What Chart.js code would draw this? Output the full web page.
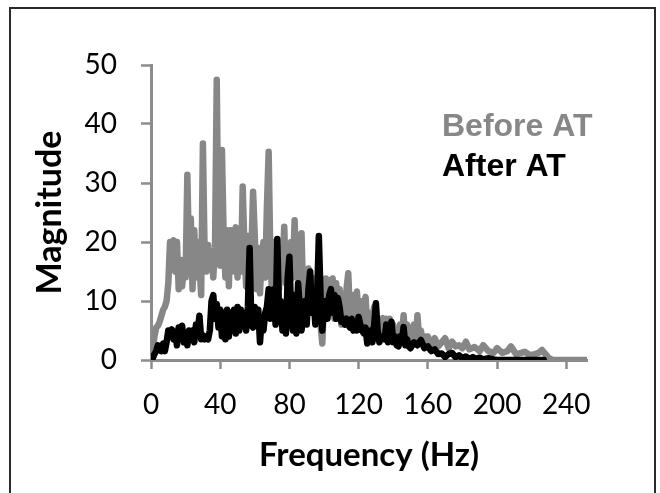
<!DOCTYPE html>
<html lang="en">
<head>
    <meta charset="UTF-8">
    <title>Frequency spectrum before and after AT</title>
    <script src="https://cdn.jsdelivr.net/npm/chart.js"></script>
    <style>
        body { margin: 0; background: #fff; }
        .master { position: relative; width: 660px; height: 493px; overflow: hidden; }
        .frame { position: absolute; left: 9px; top: 7px; width: 643px; height: 520px; border: 2px solid #2a2a2a; }
        #myChart { position: absolute; left: 0; top: 0; }
    </style>
</head>
<body>
    <div class="master">
        <div class="frame"></div>
        <canvas id="myChart" width="660" height="493"></canvas>
    </div>

    <script>
        // Before AT (grey trace)
        const beforeHz = [0,1,2,3,4,5,6,7,8,9,10,11,12,13,14,15,16,17,18,19,20,
            21,22,23,24,25,26,27,28,29,30,31,32,33,34,35,36,37,38,39,40,
            41,42,43,44,45,46,47,48,49,50,51,52,53,54,55,56,57,58,59,60,
            61,62,63,64,65,66,67,68,69,70,71,72,73,74,75,76,77,78,79,80,
            81,82,83,84,85,86,87,88,89,90,91,92,93,94,95,96,97,98,99,100,
            101,102,103,104,105,106,107,108,109,110,111,112,113,114,115,116,117,118,119,120,
            121,122,123,124,125,126,127,128,129,130,131,132,133,134,135,136,137,138,139,140,
            141,142,143,144,145,146,147,148,149,150,151,152,153,154,155,156,157,158,159,160,
            162,164,166,168,170,172,174,176,178,180,182,184,187,190,192,195,198,200,
            203,206,208,211,214,216,219,222,224,226,228,230,232,252];
        const beforeMag = [0,1.5,4,5.5,5.8,6.5,7.5,8.5,9,10,13,20,19.5,20.3,15,20,12,17,12.5,16,14,
            31.4,17,24,12,22,14,20,16,11,36.7,18,15,19.5,16,18,14,19,47.5,18,16,
            35.6,21,14,22,12.5,22,15,21.5,22.5,14,22,15,29.4,19,12.5,21,14,18,28.5,21,
            12,19,11.3,18,20,14,26,35.3,17,11,20,11,16,12,19,15,22.6,13,19,10.5,
            20,14,23.7,14,21,12,21.5,10,15,11,15.5,12,14,9,12,8,13,6,2.8,10,
            13.8,9,13.5,10,13.8,7,13,8,12,6,11,7,12,14.7,8,11,6,10,11.6,7,
            10,6.5,9,10.7,5.5,8,5,7.5,9,5,7,4.5,6,7.1,4.5,7,3.5,7,4,6,
            3.5,5,3,6,4,7.6,3.5,6,3,5.5,3,6,3,7.6,3.5,5,3,4,2.5,4,
            2.5,3.7,2.3,3,3.7,2,3.1,2.3,2.5,2,3.1,1.8,2.2,1.5,2.5,1.5,1.2,2,
            1.2,1.5,2.3,1,1.2,1.4,0.8,1,1.2,1.7,1,0.3,0,0];

        // After AT (black trace)
        const afterHz = [0,1,2,3,4,5,6,7,8,9,10,11,12,13,14,15,16,17,18,19,20,
            21,22,23,24,25,26,27,28,29,30,31,32,33,34,35,36,37,38,39,40,
            41,42,43,44,45,46,47,48,49,50,51,52,53,54,55,56,57,58,59,60,
            61,62,63,64,65,66,67,68,69,70,71,72,73,74,75,76,77,78,79,80,
            81,82,83,84,85,86,87,88,89,90,91,92,93,94,95,96,97,98,99,100,
            101,102,103,104,105,106,107,108,109,110,111,112,113,114,115,116,117,118,119,120,
            121,122,123,124,125,126,127,128,129,130,131,132,133,134,135,136,137,138,139,140,
            141,142,143,144,145,146,147,148,149,150,152,154,156,158,160,
            162,164,166,168,170,172,174,176,178,180,182,184,186,188,190,192,195,198,200,227];
        const afterMag = [0,0.3,1,1.5,2.5,2.2,1.5,2.8,1.5,3,5,4,5.2,3.5,4.8,2.5,5.5,4,5.8,3,4.5,
            2.5,5,4,5,3,6,5,7.5,3.5,4.2,3.5,4,3.5,5,10,11,7,9.5,5.5,8.5,
            4,8,3.5,8.5,4,8,5,8.5,4.5,9,5,8.5,6,7,5,9,19,6,5.5,9,
            6,8.5,3,7,5,8,9,12,7,8.5,12,6,20.5,8,10,5,9,4.5,14,17.5,
            8,5,11,4.5,13,9,5,8,10,6,12,15,8,10,6,10.5,21,11,5,9,
            10,7,11,12,8,11,7,10.5,9,6.5,7,6,7,6,5.5,7,5,6,5,7.3,
            6,5,4.5,5.5,2.8,4,5,3,6,9.6,5,3,4,4,3.5,6,3,5,6.5,3,
            4,2.5,2.3,4,3,5.6,2.5,3.5,2.3,2,3,2.5,3.4,2,2.3,
            1.5,1.8,1,1.1,0.5,1,1.2,0.5,0.8,0.3,0.6,0.2,0.5,0.2,0.4,0.1,0.3,0.1,0,0];

        const xTicks = [0, 40, 80, 120, 160, 200, 240];
        const xMax = 252;
        const yTicks = [0, 10, 20, 30, 40, 50];

        function toPoints(hz, mag) {
            return hz.map((f, i) => ({ x: f, y: mag[i] }));
        }

        const axisGrey = '#8c8c8c';

        // series names written as plain coloured text inside the plot
        const textLegend = {
            id: 'textLegend',
            afterDraw(chart) {
                const ctx = chart.ctx;
                const spots = [[442, 136], [442, 176]];
                ctx.save();
                ctx.font = 'bold 32px "Liberation Sans", Arial, sans-serif';
                ctx.textAlign = 'left';
                ctx.textBaseline = 'alphabetic';
                chart.data.datasets.forEach((ds, i) => {
                    ctx.fillStyle = ds.borderColor;
                    ctx.fillText(ds.label, spots[i][0], spots[i][1]);
                });
                ctx.restore();
            }
        };

        const ctx = document.getElementById('myChart').getContext('2d');

        const myChart = new Chart(ctx, {
            type: 'line',
            data: {
                datasets: [
                    {
                        label: 'Before AT',
                        data: toPoints(beforeHz, beforeMag),
                        borderColor: '#878787',
                        borderWidth: 6.5,
                        order: 2,
                    },
                    {
                        label: 'After AT',
                        data: toPoints(afterHz, afterMag),
                        borderColor: '#000000',
                        borderWidth: 6.5,
                        order: 1,
                    },
                ],
            },
            options: {
                responsive: false,
                animation: false,
                layout: { padding: { left: 14, right: 73, top: 65, bottom: 10 } },
                elements: {
                    point: { radius: 0 },
                    line: { tension: 0, borderJoinStyle: 'round', borderCapStyle: 'round' }
                },
                plugins: {
                    legend: { display: false },
                    tooltip: { enabled: false }
                },
                scales: {
                    x: {
                        type: 'linear',
                        min: 0,
                        max: xMax,
                        afterBuildTicks: (scale) => { scale.ticks = xTicks.map(v => ({ value: v })); },
                        afterFit: (scale) => { scale.height = 123; },
                        grid: { drawOnChartArea: false, drawTicks: true, tickLength: 9, tickColor: axisGrey, tickWidth: 2.5 },
                        border: { color: axisGrey, width: 3 },
                        ticks: { color: '#000', padding: 19, maxRotation: 0, font: { family: 'Lato', size: 28 } },
                        title: {
                            display: true,
                            text: 'Frequency (Hz)',
                            color: '#000',
                            font: { family: 'Lato', size: 33, weight: 'bold', lineHeight: 1.2 },
                            padding: { top: 0, bottom: 8 }
                        }
                    },
                    y: {
                        min: 0,
                        max: 50,
                        afterBuildTicks: (scale) => { scale.ticks = yTicks.map(v => ({ value: v })); },
                        afterFit: (scale) => { scale.width = 137; },
                        grid: { drawOnChartArea: false, drawTicks: true, tickLength: 10, tickColor: axisGrey, tickWidth: 2.5 },
                        border: { color: axisGrey, width: 3 },
                        ticks: { color: '#000', padding: 24, font: { family: 'Lato', size: 28 } },
                        title: {
                            display: true,
                            text: 'Magnitude',
                            color: '#000',
                            font: { family: 'Lato', size: 34, weight: 'bold', lineHeight: 1.2 },
                            padding: { top: 16, bottom: 0 }
                        }
                    }
                }
            },
            plugins: [textLegend]
        });
    </script>
</body>
</html>
